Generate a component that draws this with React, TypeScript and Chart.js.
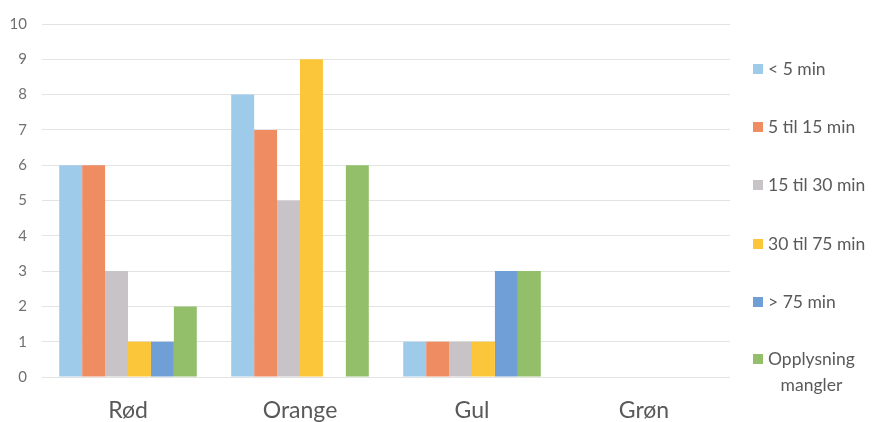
import React, { useEffect, useRef } from "react";
import { Chart, registerables } from "chart.js";

Chart.register(...registerables);

const categories = ["Rød", "Orange", "Gul", "Grøn"];
const seriesNames = ["< 5 min", "5 til 15 min", "15 til 30 min", "30 til 75 min", "> 75 min", "Opplysning mangler"];
const under5 = [6, 8, 1, 0];
const from5to15 = [6, 7, 1, 0];
const from15to30 = [3, 5, 1, 0];
const from30to75 = [1, 9, 1, 0];
const over75 = [1, 0, 3, 0];
const missing = [2, 6, 3, 0];
const seriesValues = [under5, from5to15, from15to30, from30to75, over75, missing];
const seriesColors = ["#9fcbea", "#ef8c62", "#c8c3c6", "#fcc63a", "#6f9fd6", "#93bf6a"];
const legendLines = [["< 5 min"], ["5 til 15 min"], ["15 til 30 min"], ["30 til 75 min"], ["> 75 min"], ["Opplysning", "mangler"]];

const FONT = "Lato, 'Open Sans', sans-serif";

export default function App() {
  const ref = useRef<HTMLCanvasElement | null>(null);
  useEffect(() => {
    if (!ref.current) return;
    const chart = new Chart(ref.current, {
      type: "bar",
      data: {
        labels: categories,
        datasets: seriesNames.map((name, i) => ({
          label: name,
          data: seriesValues[i],
          backgroundColor: seriesColors[i],
          borderWidth: 0,
          categoryPercentage: 0.8,
          barPercentage: 1.0,
        })),
      },
      options: {
        animation: false,
        responsive: false,
        maintainAspectRatio: false,
        layout: { padding: { top: 22, right: 152, left: 0, bottom: 0 } },
        plugins: { legend: { display: false }, tooltip: { enabled: false } },
        scales: {
          x: {
            grid: { display: false, drawTicks: false },
            border: { display: false },
            ticks: { color: "#595959", font: { family: FONT, size: 23 }, padding: 20 },
            afterFit: (s: any) => { s.height = 45; },
          },
          y: {
            min: 0,
            max: 10,
            grid: { color: "#e3e3e3", drawTicks: false },
            border: { display: false },
            ticks: { stepSize: 1, color: "#707070", font: { family: FONT, size: 15 }, padding: 15 },
            afterFit: (s: any) => { s.width = 42; },
          },
        },
      },
    });
    return () => chart.destroy();
  }, []);

  const legendTops = [56, 114, 172, 231, 289, 346];

  return (
    <div style={{ position: "fixed", left: 0, top: 0, width: 882, height: 422, background: "#fff" }}>
      <canvas ref={ref} width={882} height={422} style={{ position: "absolute", left: 0, top: 0 }} />
      {legendLines.map((lines, i) => (
        <div key={i} style={{ position: "absolute", left: 753, top: legendTops[i], fontFamily: FONT, fontSize: 17.5, color: "#595959", lineHeight: "26px", display: "flex", alignItems: "flex-start", whiteSpace: "nowrap" }}>
          <span style={{ display: "inline-block", width: 10, height: 10, background: seriesColors[i], marginTop: 8, marginRight: 5 }} />
          <span style={{ textAlign: "center" }}>
            {lines.map((l, j) => (<div key={j}>{l}</div>))}
          </span>
        </div>
      ))}
    </div>
  );
}
